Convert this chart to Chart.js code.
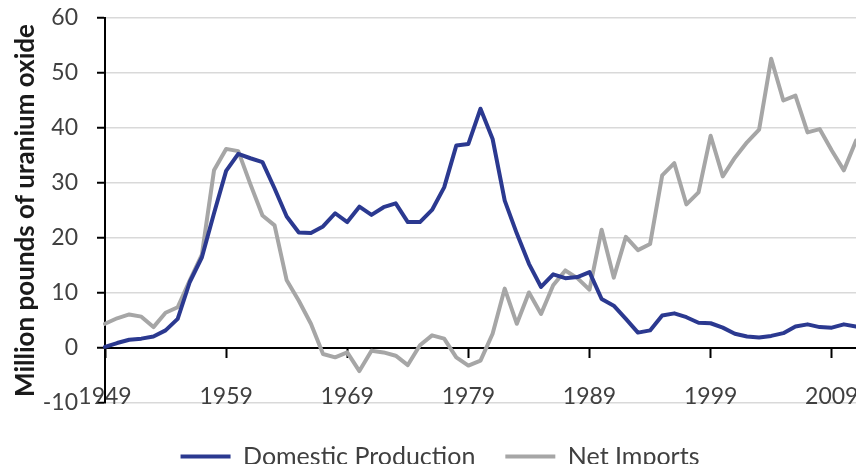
<!DOCTYPE html>
<html>
<head>
<meta charset="utf-8">
<script src="https://cdn.jsdelivr.net/npm/chart.js@4/dist/chart.umd.min.js"></script>
<style>
html,body{margin:0;padding:0;background:#fff;}
#wrap{width:856px;height:470px;position:relative;}
</style>
</head>
<body>
<div id="wrap"><canvas id="c"></canvas></div>
<script>
const years = ['1949','1950','1951','1952','1953','1954','1955','1956','1957','1958',
  '1959','1960','1961','1962','1963','1964','1965','1966','1967','1968',
  '1969','1970','1971','1972','1973','1974','1975','1976','1977','1978',
  '1979','1980','1981','1982','1983','1984','1985','1986','1987','1988',
  '1989','1990','1991','1992','1993','1994','1995','1996','1997','1998',
  '1999','2000','2001','2002','2003','2004','2005','2006','2007','2008',
  '2009','2010','2011'];
const tickLabels = ['1949','1959','1969','1979','1989','1999','2009'];
const domesticProduction = [0.2, 0.9, 1.5, 1.7, 2.1, 3.2, 5.3, 12.0, 16.5, 24.5,
  32.2, 35.3, 34.5, 33.8, 29.0, 23.9, 21.0, 20.9, 22.1, 24.5,
  22.9, 25.7, 24.2, 25.6, 26.3, 22.9, 22.9, 25.1, 29.2, 36.8,
  37.1, 43.5, 38.0, 26.8, 20.8, 15.3, 11.1, 13.4, 12.7, 12.9,
  13.8, 8.9, 7.7, 5.3, 2.8, 3.2, 5.9, 6.3, 5.6, 4.6,
  4.5, 3.7, 2.6, 2.1, 1.9, 2.2, 2.7, 3.9, 4.3, 3.8,
  3.7, 4.3, 3.9];
const netImports = [4.4, 5.4, 6.1, 5.7, 3.8, 6.4, 7.4, 12.3, 17.0, 32.3,
  36.2, 35.8, 29.8, 24.1, 22.3, 12.3, 8.6, 4.4, -1.1, -1.7,
  -0.8, -4.2, -0.5, -0.8, -1.4, -3.1, 0.5, 2.3, 1.7, -1.7,
  -3.2, -2.3, 2.6, 10.8, 4.4, 10.1, 6.2, 11.4, 14.1, 12.7,
  10.6, 21.5, 12.8, 20.2, 17.8, 18.9, 31.4, 33.6, 26.1, 28.3,
  38.6, 31.2, 34.6, 37.4, 39.7, 52.6, 45.0, 45.9, 39.2, 39.8,
  35.9, 32.3, 37.7];
const seriesNames = ['Domestic Production', 'Net Imports'];
const yTitle = 'Million pounds of uranium oxide';

const FONT = 'Lato, "Open Sans", sans-serif';
const BLUE = '#2B3990';
const GRAY = '#A6A6A6';

const legendShift = {
  id: 'legendShift',
  afterLayout(chart) {
    chart.legend.left += 12;
    chart.legend.right += 12;
    chart.legend.top += 11;
    chart.legend.bottom += 11;
  }
};

new Chart(document.getElementById('c'), {
  type: 'line',
  data: {
    labels: years,
    datasets: [
      { label: seriesNames[0], data: domesticProduction, borderColor: BLUE, backgroundColor: BLUE,
        borderWidth: 4, pointRadius: 0, tension: 0, borderJoinStyle: 'round', borderCapStyle: 'round' },
      { label: seriesNames[1], data: netImports, borderColor: GRAY, backgroundColor: GRAY,
        borderWidth: 4, pointRadius: 0, tension: 0, borderJoinStyle: 'round', borderCapStyle: 'round' }
    ]
  },
  options: {
    responsive: true,
    maintainAspectRatio: false,
    animation: false,
    devicePixelRatio: 1,
    layout: { padding: { top: 0, right: 0, bottom: 17, left: 0 } },
    plugins: {
      legend: {
        position: 'bottom',
        maxHeight: 50,
        labels: {
          usePointStyle: true, pointStyle: 'line', pointStyleWidth: 50,
          font: { family: FONT, size: 25 }, color: '#404040', padding: 30
        }
      },
      tooltip: { enabled: false }
    },
    scales: {
      x: {
        position: { y: 0 },
        offset: false,
        afterFit: (s) => { s.height = 0; s.paddingLeft = 0; s.paddingRight = 0; },
        grid: {
          display: true, drawOnChartArea: false, drawTicks: true,
          tickLength: 9, tickWidth: 2,
          tickColor: (c) => tickLabels.includes(years[c.index]) ? '#000' : 'rgba(0,0,0,0)'
        },
        border: { display: true, color: '#000', width: 2 },
        ticks: {
          autoSkip: false, maxRotation: 0, minRotation: 0, padding: 26,
          font: { family: FONT, size: 23 }, color: '#404040',
          callback: (v, i) => tickLabels.includes(years[i]) ? years[i] : ''
        }
      },
      y: {
        min: -10, max: 60,
        afterFit: (s) => { s.width = 105; s.paddingTop = 18; s.paddingBottom = 0; },
        ticks: { stepSize: 10, font: { family: FONT, size: 23 }, color: '#404040', padding: 19 },
        grid: { color: '#D9D9D9', lineWidth: 1.5, tickColor: '#000', tickLength: 8, tickWidth: 2 },
        border: { color: '#000', width: 2 },
        title: {
          display: true, text: yTitle,
          font: { family: FONT, size: 26, weight: 'bold' }, color: '#1a1a1a',
          padding: { top: 10, bottom: 0 }
        }
      }
    }
  },
  plugins: [legendShift]
});
</script>
</body>
</html>
